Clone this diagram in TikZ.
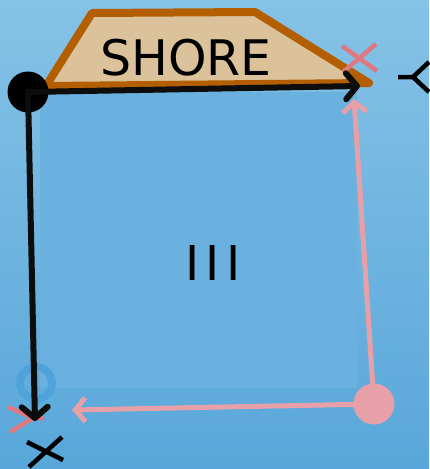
\documentclass[tikz,border=0pt]{standalone}
\usepackage{fontspec}
\setmainfont{DejaVu Sans}
\usetikzlibrary{arrows.meta}
\definecolor{bgtop}{RGB}{134,194,230}
\definecolor{bgbot}{RGB}{88,167,218}
\definecolor{pool}{RGB}{106,177,224}
\definecolor{sand}{RGB}{219,194,155}
\definecolor{shoreline}{RGB}{179,95,0}
\definecolor{pinkline}{RGB}{232,160,168}
\definecolor{pinkx}{RGB}{224,120,130}
\definecolor{ringblue}{RGB}{80,163,218}
\tikzset{
  blackarrow/.style={draw=black!95, line width=6pt, line cap=round, -{Straight Barb[length=11pt,width=26pt,round]}},
  pinkarrow/.style={draw=pinkline, line width=5pt, -{Straight Barb[length=10pt,width=24pt]}},
  marker/.style={line width=4.5pt},
}
\begin{document}
\begin{tikzpicture}[x=1pt,y=-1pt]
\useasboundingbox (0,0) rectangle (429,469);
\shade[top color=bgtop,bottom color=bgbot] (0,0) rectangle (429,469);
\fill[pool] (40,92) rectangle (357,388);
% shore
\draw[shoreline, fill=sand, line width=8pt, line join=round] (92,13) -- (255,12) -- (369,83) -- (46,86) -- cycle;
\node[font=\fontsize{49}{49}\selectfont, text=black] (shore) at (186,58) {SHORE};
% pink X top right
\draw[pinkx, marker] (342,46) -- (377,71) (343,72) -- (376,44);
% black fork at right
\draw[black, marker] (398,77) -- (413,77) -- (429,62) (413,77) -- (429,92);
% ring
\node[draw=ringblue, line width=8pt, circle, minimum size=32pt, inner sep=0pt] (ring) at (36,383) {};
% pink lines bottom-left
\draw[pinkx, marker] (8,407) -- (33,418) -- (10,432) (33,418) -- (43,418);
% III
\node[font=\fontsize{48}{48}\selectfont, text=black] (three) at (213,263) {I\kern6ptI\kern6ptI};
% dots and arrows
\node[circle, fill=pinkline, minimum size=41pt, inner sep=0pt] (pdot) at (374,404) {};
\coordinate (ptop) at (354,99);
\coordinate (pleft) at (72,410);
\draw[pinkarrow] (pdot.center) -- (ptop);
\draw[pinkarrow] (pdot.center) -- (pleft);
\node[circle, fill=black, minimum size=41pt, inner sep=0pt] (bdot) at (28,92) {};
\coordinate (btip) at (360,86);
\coordinate (bdown) at (35,421);
\draw[blackarrow] (bdot.center) -- (btip);
\draw[blackarrow] (bdot.center) -- (bdown);
% black X bottom
\draw[black, marker] (29,467) -- (62,437) (27,442) -- (63,460);
\end{tikzpicture}
\end{document}
